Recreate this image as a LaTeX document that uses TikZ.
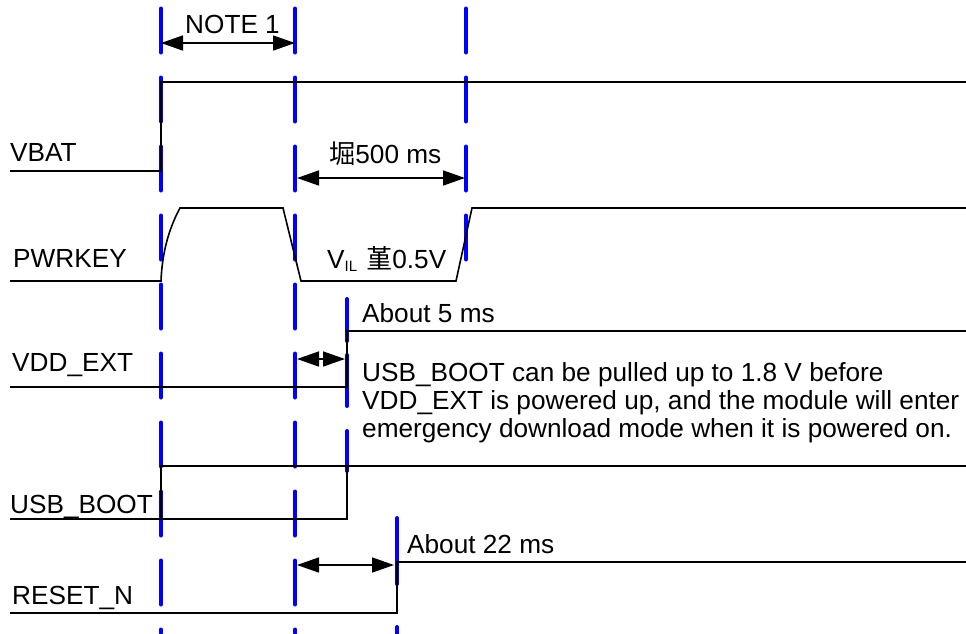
\documentclass[tikz,border=0pt]{standalone}
\usepackage{fontspec}
\setmainfont{Liberation Sans}
\newfontfamily\cjk{Noto Sans CJK SC}
\usetikzlibrary{arrows.meta}
\begin{document}
\begin{tikzpicture}[x=1pt,y=-1pt,
  sig/.style={line width=1.6pt},
  gridline/.style={blue, line width=4pt, line cap=round, dash pattern=on 44pt off 25pt},
  bluedash/.style={blue, line width=4pt, line cap=round},
  lbl/.style={anchor=base west, inner sep=0pt, font=\fontsize{26.2}{28}\selectfont},
  dim/.style={line width=1.6pt, {Triangle[length=22pt,width=15pt]}-{Triangle[length=22pt,width=15pt]}}]
\useasboundingbox (0,0) rectangle (966,633);
% blue timing markers
\draw[gridline] (161,8.5) -- (161,633);
\draw[gridline] (295,8.5) -- (295,633);
\draw[gridline] (466,8.5) -- (466,262);
\draw[bluedash] (347,299) -- (347,341);
\draw[bluedash] (347,355) -- (347,406);
\draw[bluedash] (347,431) -- (347,471);
\draw[bluedash] (397,518) -- (397,584);
\draw[bluedash] (397,627) -- (397,640);
% labels
\node[lbl] (lvbat) at (10,161) {VBAT};
\node[lbl] (lpwr) at (13,267) {PWRKEY};
\node[lbl] (lvdd) at (12,371) {VDD\_EXT};
\node[lbl] (lusb) at (10,513) {USB\_BOOT};
\node[lbl] (lrst) at (12,604) {RESET\_N};
% VBAT
\draw[sig] (10,171) -- (161,171) -- (161,82) -- (966,82);
% PWRKEY
\draw[sig] (10,281) -- (161,281) .. controls (162,255) and (168,230) .. (180,208)
  -- (283,208) -- (301,281) -- (456,281) -- (472,208) -- (966,208);
% VDD_EXT
\draw[sig] (10,387) -- (347,387) -- (347,331) -- (966,331);
% USB_BOOT
\draw[sig] (10,519) -- (347,519) -- (347,466);
\draw[sig] (161,519) -- (161,466) -- (966,466);
% RESET_N
\draw[sig] (10,613) -- (397,613) -- (397,562) -- (966,562);
% dimension arrows
\coordinate (n1a) at (161,43); \coordinate (n1b) at (295,43);
\draw[dim] (n1a) -- (n1b);
\node[lbl] (tnote) at (185,33) {NOTE 1};
\coordinate (t5a) at (297,178); \coordinate (t5b) at (465,178);
\draw[dim] (t5a) -- (t5b);
\node[lbl] (t500) at (329,163) {{\cjk 堀}500 ms};
\node[lbl] (tvil) at (327,268) {V\raisebox{-3pt}{\fontsize{15}{15}\selectfont IL}\hspace{9pt}{\cjk 堇}0.5V};
\coordinate (v5a) at (297,359); \coordinate (v5b) at (345,359);
\draw[dim] (v5a) -- (v5b);
\node[lbl] (tab5) at (362,322) {About 5 ms};
\node[lbl] (tn1) at (362,381) {USB\_BOOT can be pulled up to 1.8 V before};
\node[lbl] (tn2) at (362,409) {VDD\_EXT is powered up, and the module will enter};
\node[lbl] (tn3) at (362,437) {emergency download mode when it is powered on.};
\coordinate (r2a) at (297,565); \coordinate (r2b) at (394,565);
\draw[dim] (r2a) -- (r2b);
\node[lbl] (tab22) at (407,553) {About 22 ms};
\end{tikzpicture}
\end{document}
